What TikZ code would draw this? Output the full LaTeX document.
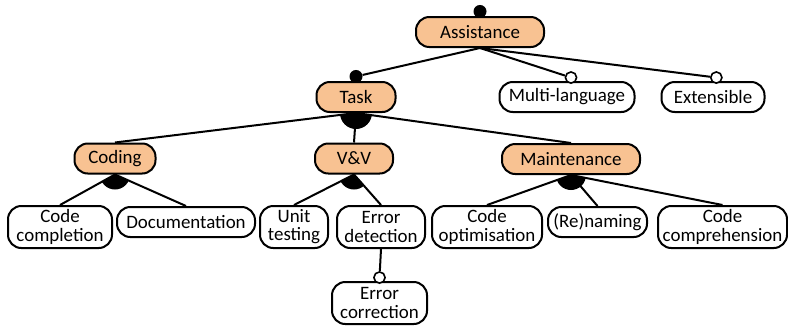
\documentclass[tikz,border=0pt]{standalone}
\usepackage{fontspec}
\setmainfont{Carlito}
\definecolor{peach}{HTML}{F8C292}
\begin{document}
\begin{tikzpicture}[x=0.75pt,y=-0.75pt,
  feat/.style={draw, line width=1.5pt, rounded corners=10pt, inner sep=0pt,
    align=center, minimum height=22.5pt,
    font=\fontsize{14.2}{13.6}\selectfont},
  absfeat/.style={feat, fill=peach},
  twoline/.style={minimum height=31.5pt},
  conn/.style={line width=1.5pt},
  mand/.style={circle, fill=black, inner sep=0pt, minimum size=9.75pt},
  opt/.style={circle, draw, fill=white, line width=1.2pt, inner sep=0pt, minimum size=8.4pt},
  orfill/.style={fill=black}]
\useasboundingbox (0,0) rectangle (788,326);

% features
\node[absfeat, minimum width=96pt]    (assist) at (480,32)   {Assistance};
\node[absfeat, minimum width=59.25pt] (task)   at (356,97)   {Task};
\node[feat, minimum width=101.25pt]   (multi)  at (567,97)   {Multi-language};
\node[feat, minimum width=77.25pt]    (ext)    at (713,97)   {Extensible};
\node[absfeat, minimum width=60.75pt] (coding) at (115,158.5) {Coding};
\node[absfeat, minimum width=58.5pt]  (vv)     at (354,158.5) {V\&V};
\node[absfeat, minimum width=103.5pt] (maint)  at (571,159)  {Maintenance};

\node[feat, twoline, minimum width=78pt]     (cc)   at (60,227)    {Code\\completion};
\node[feat, minimum width=103.5pt]           (doc)  at (186,222)   {Documentation};
\node[feat, twoline, minimum width=51pt]     (unit) at (294,227)   {Unit\\testing};
\node[feat, twoline, minimum width=66pt]     (edet) at (381,227)   {Error\\detection};
\node[feat, twoline, minimum width=82.5pt]   (copt) at (487,227)   {Code\\optimisation};
\node[feat, minimum width=74.25pt]           (ren)  at (597.5,222) {(Re)naming};
\node[feat, twoline, minimum width=96.75pt]  (ccomp) at (722.5,227) {Code\\comprehension};
\node[feat, twoline, minimum width=71.25pt]  (ecor) at (379.5,303) {Error\\correction};

% mandatory / optional markers
\node[mand] (rootdot) at ([yshift=3.4pt]assist.north) {};
\node[mand] (taskdot) at ([yshift=3.4pt]task.north) {};
\node[opt]  (multidot) at ([xshift=3pt,yshift=2.6pt]multi.north) {};
\node[opt]  (extdot)   at ([xshift=2.5pt,yshift=2.6pt]ext.north) {};
\node[opt]  (ecordot)  at ([yshift=2.6pt]ecor.north) {};

% connectors
\draw[conn] (assist.south) -- (taskdot);
\draw[conn] (assist.south) -- (multidot);
\draw[conn] (assist.south) -- (extdot);
\draw[conn] (edet.south) -- (ecordot);

\draw[conn] (task.south) -- (coding.north);
\draw[conn] (task.south) -- (vv.north);
\draw[conn] (task.south) -- (maint.north);

\draw[conn] (coding.south) -- (cc.north);
\draw[conn] (coding.south) -- (doc.north);

\draw[conn] (vv.south) -- (unit.north);
\draw[conn] (vv.south) -- (edet.north);

\draw[conn] (maint.south) -- (copt.north);
\draw[conn] (maint.south) -- (ren.north);
\draw[conn] (maint.south) -- (ccomp.north);

% or-group arcs
\begin{scope}
  \clip (task.south) -- (coding.north) -- (maint.north) -- cycle;
  \fill[orfill] (task.south) circle (12pt);
\end{scope}
\begin{scope}
  \clip (coding.south) -- (cc.north) -- (doc.north) -- cycle;
  \fill[orfill] (coding.south) circle (11.25pt);
\end{scope}
\begin{scope}
  \clip (vv.south) -- (unit.north) -- (edet.north) -- cycle;
  \fill[orfill] (vv.south) circle (11.25pt);
\end{scope}
\begin{scope}
  \clip (maint.south) -- (copt.north) -- (ccomp.north) -- cycle;
  \fill[orfill] (maint.south) circle (11.25pt);
\end{scope}
\end{tikzpicture}
\end{document}
